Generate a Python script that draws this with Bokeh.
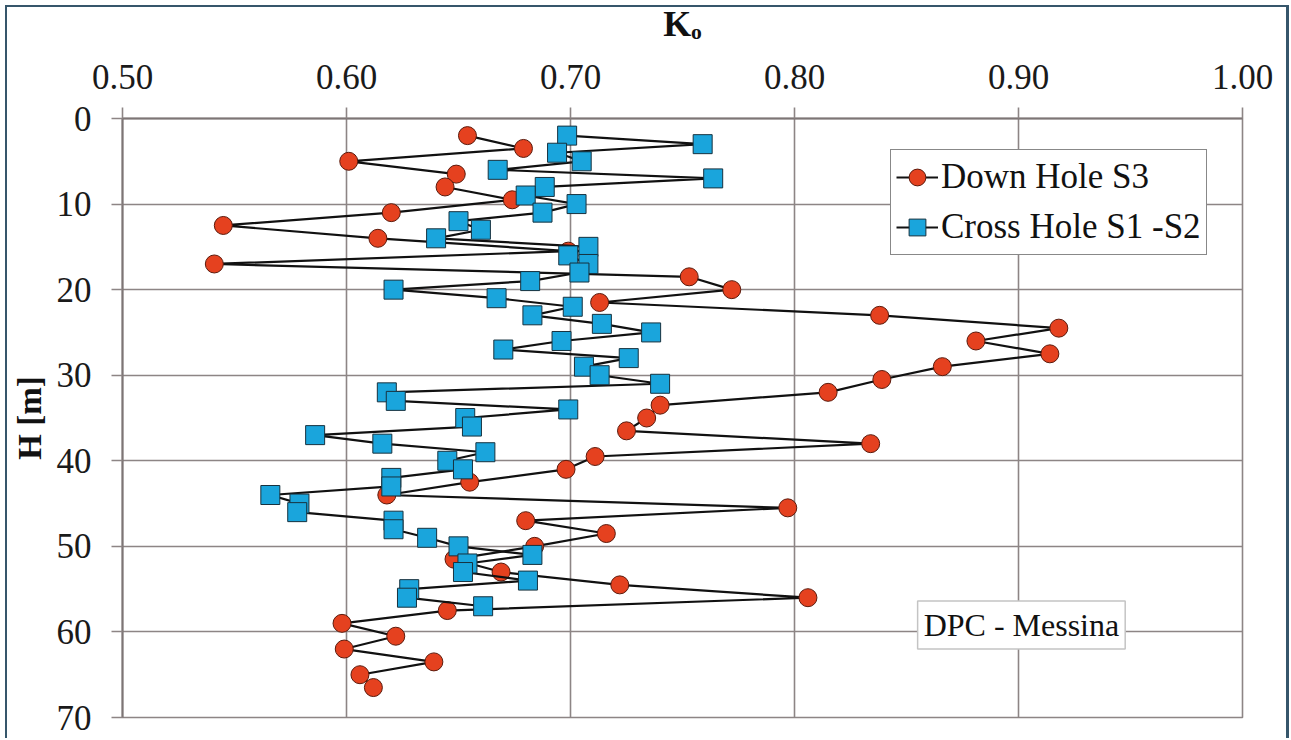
from bokeh.plotting import figure
from bokeh.models import (Range1d, FixedTicker, NumeralTickFormatter, Legend, LegendItem, Label)
from bokeh.embed import file_html
from bokeh.resources import INLINE

# ---- data ----
down_depth = [2, 3.5, 5, 6.5, 8, 9.5, 11, 12.5, 14, 15.5, 17, 18.5, 20, 21.5, 23, 24.5, 26, 27.5,
              29, 30.5, 32, 33.5, 35, 36.5, 38, 39.5, 41, 42.5, 44, 45.5, 47, 48.5, 50, 51.5,
              53, 54.5, 56, 57.5, 59, 60.5, 62, 63.5, 65, 66.5]
down_k0 = [0.654, 0.679, 0.601, 0.649, 0.644, 0.674, 0.620, 0.545, 0.614, 0.699, 0.541, 0.753,
           0.772, 0.713, 0.838, 0.918, 0.881, 0.914, 0.866, 0.839, 0.815, 0.740, 0.734, 0.725,
           0.834, 0.711, 0.698, 0.655, 0.618, 0.797, 0.680, 0.716, 0.684, 0.648, 0.669, 0.722,
           0.806, 0.645, 0.598, 0.622, 0.599, 0.639, 0.606, 0.612]

cross_depth = [2, 3, 4, 5, 6, 7, 8, 9, 10, 11, 12, 13, 14, 15, 16, 17, 18, 19, 20, 21, 22, 23,
               24, 25, 26, 27, 28, 29, 30, 31, 32, 33, 34, 35, 36, 37, 38, 39, 40, 41, 42, 43,
               44, 45, 46, 47, 48, 49, 50, 51, 52, 53, 54, 55, 56, 57]
cross_k0 = [0.6985, 0.759, 0.694, 0.705, 0.6675, 0.7637, 0.6885, 0.680, 0.7027, 0.6875, 0.650,
            0.660, 0.640, 0.708, 0.699, 0.708, 0.704, 0.682, 0.621, 0.667, 0.701, 0.683, 0.714,
            0.736, 0.696, 0.670, 0.726, 0.706, 0.713, 0.740, 0.618, 0.622, 0.699, 0.653, 0.656,
            0.586, 0.616, 0.662, 0.645, 0.652, 0.620, 0.620, 0.566, 0.579, 0.578, 0.621, 0.621,
            0.636, 0.650, 0.683, 0.654, 0.652, 0.681, 0.628, 0.627, 0.661]

x_ticks = [0.5, 0.6, 0.7, 0.8, 0.9, 1.0]
y_ticks = [0, 10, 20, 30, 40, 50, 60, 70]

series_names = ["Down Hole S3", "Cross Hole S1 -S2"]

SERIF = "Liberation Serif"
GRID = "#8d8585"
FRAME = "#36566b"

p = figure(width=1289, height=738, output_backend="svg", toolbar_location=None,
           x_axis_location="above",
           x_range=Range1d(0.5, 1.0), y_range=Range1d(70, 0),
           min_border_left=122, min_border_right=47, min_border_top=118, min_border_bottom=21)
p.background_fill_color = "white"
p.border_fill_color = None
p.outline_line_color = GRID
p.outline_line_width = 1.6
p.styles = {"box-shadow": (f"inset 5px 0 0 0 white, inset 0 5px 0 0 white, "
                           f"inset 7px 0 0 0 {FRAME}, inset 0 7px 0 0 {FRAME}, "
                           f"inset -3px 0 0 0 {FRAME}")}

# axes
p.xaxis.ticker = FixedTicker(ticks=x_ticks)
p.xaxis.formatter = NumeralTickFormatter(format="0.00")
p.yaxis.ticker = FixedTicker(ticks=y_ticks)
for ax in (p.xaxis[0], p.yaxis[0]):
    ax.major_label_text_font = SERIF
    ax.major_label_text_font_size = "35px"
    ax.major_label_text_color = "#1a1a1a"
    ax.major_tick_out = 11
    ax.major_tick_in = 0
    ax.minor_tick_out = 0
    ax.minor_tick_in = 0
    ax.major_tick_line_color = GRID
    ax.major_tick_line_width = 1.6
    ax.axis_line_color = "#7d7575"
    ax.axis_line_width = 2
    ax.axis_label_text_font = SERIF
    ax.axis_label_text_font_style = "bold"
    ax.axis_label_text_color = "#111111"
p.xaxis.major_label_standoff = 19
p.xaxis.axis_label = "K\u2092"
p.xaxis.axis_label_text_font_size = "36px"
p.xaxis.axis_label_standoff = 18
p.yaxis.major_label_standoff = 20
p.yaxis.axis_label = "H [m]"
p.yaxis.axis_label_text_font_size = "33px"
p.yaxis.axis_label_standoff = 6

p.xgrid.grid_line_color = GRID
p.xgrid.grid_line_width = 1.6
p.ygrid.grid_line_color = GRID
p.ygrid.grid_line_width = 1.6

# series
r_line = p.line(down_k0, down_depth, line_color="#111111", line_width=2.2)
r_pts = p.scatter(down_k0, down_depth, marker="circle", size=18,
                  fill_color="#e5411f", line_color="#5b1a0c", line_width=1)
b_line = p.line(cross_k0, cross_depth, line_color="#111111", line_width=2.2)
b_pts = p.scatter(cross_k0, cross_depth, marker="square", size=19,
                  fill_color="#1aa5dc", line_color="#17323f", line_width=1)

legend = Legend(items=[LegendItem(label=series_names[0], renderers=[r_line, r_pts]),
                       LegendItem(label=series_names[1], renderers=[b_line, b_pts])],
                location=(768, 462), margin=0, padding=5, spacing=6,
                glyph_width=42, glyph_height=44, label_standoff=3,
                label_text_font=SERIF, label_text_font_size="35px", label_text_color="#111111",
                label_text_baseline="middle",
                border_line_color="#111111", border_line_width=1.5,
                background_fill_color="white", background_fill_alpha=1)
p.add_layout(legend)

# annotation box
p.add_layout(Label(x=0.9013, y=59.2, text="DPC - Messina", text_font=SERIF,
                   text_font_size="32px", text_color="#111111",
                   text_align="center", text_baseline="middle",
                   background_fill_color="white", border_line_color="#c4c4c4",
                   border_line_width=1.5, padding=6))

open("out.html", "w").write(file_html(p, INLINE))
